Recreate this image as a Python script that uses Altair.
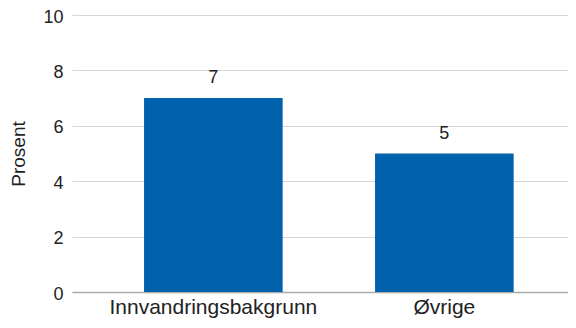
import altair as alt
import pandas as pd

categories = ["Innvandringsbakgrunn", "Øvrige"]
values = [7, 5]

df = pd.DataFrame({"kategori": categories, "prosent": values})

FONT = "Liberation Sans"
BAR = "#0062ad"

base = alt.Chart(df).encode(
    x=alt.X(
        "kategori:N",
        sort=categories,
        title=None,
        scale=alt.Scale(paddingInner=0.4, paddingOuter=0.2736, align=0.57),
        axis=alt.Axis(
            labelAngle=0,
            labelFont=FONT,
            labelFontSize=21,
            labelColor="#222222",
            labelPadding=4,
            labelLimit=400,
            ticks=False,
            domainColor="#aaaaaa",
            domainWidth=1.5,
            grid=False,
        ),
    ),
    y=alt.Y(
        "prosent:Q",
        title="Prosent",
        scale=alt.Scale(domain=[0, 10], nice=False),
        axis=alt.Axis(
            values=[0, 2, 4, 6, 8, 10],
            labelFont=FONT,
            labelFontSize=18,
            labelColor="#222222",
            labelPadding=9,
            labelOffset=2,
            ticks=False,
            domain=False,
            gridColor="#d6d6d6",
            gridWidth=1,
            titleFont=FONT,
            titleFontSize=19,
            titleFontWeight="normal",
            titleColor="#222222",
            titlePadding=14,
        ),
    ),
)

bars = base.mark_bar(color=BAR)
labels = base.mark_text(
    dy=-11, baseline="bottom", font=FONT, fontSize=18, color="#222222"
).encode(text="prosent:Q")

chart = (
    (bars + labels)
    .properties(
        width=496,
        height=277,
        autosize=alt.AutoSizeParams(type="none"),
        padding={"left": 64, "top": 7, "right": 0, "bottom": 28},
    )
    .configure_view(stroke=None)
)

chart.save("out.html", embed_options={"renderer": "svg", "actions": False})
